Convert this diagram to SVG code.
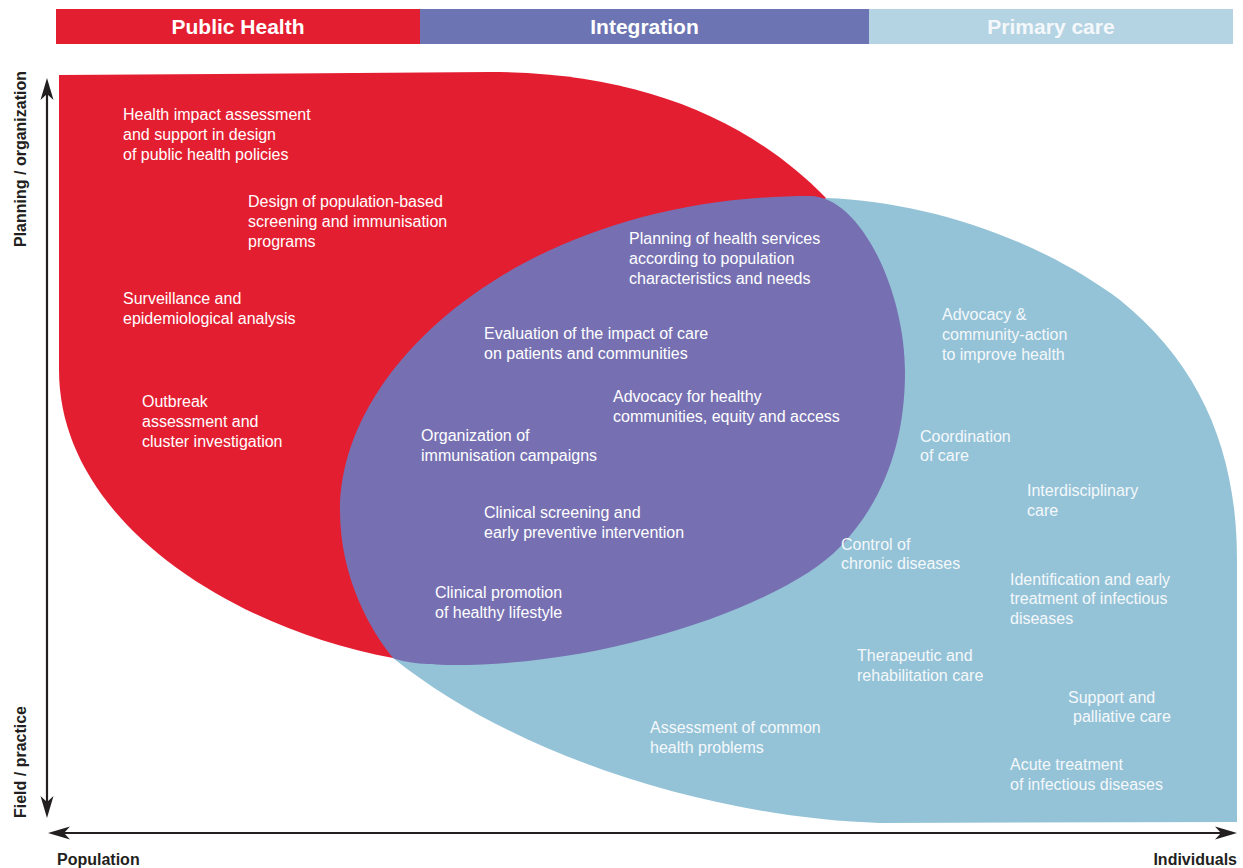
<svg xmlns="http://www.w3.org/2000/svg" width="1243" height="868" viewBox="0 0 1243 868">
<style>
.t{font-family:"Liberation Sans",Arial,sans-serif;font-size:16px;fill:#ffffff}
.tb{fill:#f4f8fb}
.h{font-family:"Liberation Sans",Arial,sans-serif;font-size:21px;font-weight:bold;text-anchor:middle}
.ax{font-family:"Liberation Sans",Arial,sans-serif;font-size:16px;font-weight:bold;fill:#231f20}
.axis{fill:none;stroke:#231f20;stroke-width:2.2}
</style>
<defs>
<marker id="arr" viewBox="-23 -7 24 14" refX="-10" refY="0" markerWidth="24" markerHeight="14" markerUnits="userSpaceOnUse" orient="auto-start-reverse">
<path d="M0,0 L-22,-6.5 L-16,0 L-22,6.5 Z" fill="#231f20"/>
</marker>
</defs>
<rect width="1243" height="868" fill="#ffffff"/>
<g id="header">
<g id="hdr-public-health"><rect x="56" y="9" width="364" height="35" fill="#e41e31"/><text class="h" x="238" y="34" fill="#ffffff">Public Health</text></g>
<g id="hdr-integration"><rect x="420" y="9" width="449" height="35" fill="#6d74b3"/><text class="h" x="644.5" y="34" fill="#ffffff">Integration</text></g>
<g id="hdr-primary-care"><rect x="869" y="9" width="364" height="35" fill="#b4d3e3"/><text class="h" x="1051" y="34" fill="#f4f8fb">Primary care</text></g>
</g>
<g id="shapes">
<path id="public-health-area" fill="#e41e31" d="M59,75 L490,72 C640,72 750,120 826,198 L620,430 L393,658 C230,628 59,520 59,370 Z"/>
<path id="primary-care-area" fill="#94c3d7" d="M826,198 C930,202 1040,240 1120,300 C1200,365 1237,450 1237,560 L1237,822 L880,823 C720,818 520,760 393,658 L620,430 Z"/>
<path id="integration-area" fill="#7670b2" d="M340,510 C340,360 530,196 810,196 C860,196 905,290 905,372 C905,440 885,500 840,547 C790,600 620,665 455,665 C430,665 405,663 393,658 C372,632 340,580 340,510 Z"/>
</g>
<g id="connectors">
<path class="axis" d="M47,808 L47,88" marker-start="url(#arr)" marker-end="url(#arr)"/>
<path class="axis" d="M58,833 L1227,833" marker-start="url(#arr)" marker-end="url(#arr)"/>
</g>
<g id="axis-labels">
<text class="ax" text-anchor="middle" transform="translate(26,159) rotate(-90)">Planning / organization</text>
<text class="ax" text-anchor="middle" transform="translate(26,762) rotate(-90)">Field / practice</text>
<text class="ax" x="57" y="865">Population</text>
<text class="ax" x="1237" y="865" text-anchor="end">Individuals</text>
</g>
<g id="n1" class="t"><text class="t" x="123" y="120">Health impact assessment</text><text class="t" x="123" y="140">and support in design</text><text class="t" x="123" y="160">of public health policies</text></g>
<g id="n2"><text class="t" x="248" y="207">Design of population-based</text><text class="t" x="248" y="227">screening and immunisation</text><text class="t" x="248" y="247">programs</text></g>
<g id="n3"><text class="t" x="123" y="304">Surveillance and</text><text class="t" x="123" y="324">epidemiological analysis</text></g>
<g id="n4"><text class="t" x="142" y="407">Outbreak</text><text class="t" x="142" y="427">assessment and</text><text class="t" x="142" y="447">cluster investigation</text></g>
<g id="n5"><text class="t" x="629" y="244">Planning of health services</text><text class="t" x="629" y="264">according to population</text><text class="t" x="629" y="284">characteristics and needs</text></g>
<g id="n6"><text class="t" x="484" y="339">Evaluation of the impact of care</text><text class="t" x="484" y="359">on patients and communities</text></g>
<g id="n7"><text class="t" x="613" y="402">Advocacy for healthy</text><text class="t" x="613" y="422">communities, equity and access</text></g>
<g id="n8"><text class="t" x="421" y="441">Organization of</text><text class="t" x="421" y="461">immunisation campaigns</text></g>
<g id="n9"><text class="t" x="484" y="518">Clinical screening and</text><text class="t" x="484" y="538">early preventive intervention</text></g>
<g id="n10"><text class="t" x="435" y="598">Clinical promotion</text><text class="t" x="435" y="618">of healthy lifestyle</text></g>
<g id="n11"><text class="t tb" x="942" y="320">Advocacy &amp;</text><text class="t tb" x="942" y="340">community-action</text><text class="t tb" x="942" y="360">to improve health</text></g>
<g id="n12"><text class="t tb" x="920" y="442">Coordination</text><text class="t tb" x="920" y="461">of care</text></g>
<g id="n13"><text class="t tb" x="1027" y="496">Interdisciplinary</text><text class="t tb" x="1027" y="516">care</text></g>
<g id="n14"><text class="t tb" x="841" y="550">Control of</text><text class="t tb" x="841" y="569">chronic diseases</text></g>
<g id="n15"><text class="t tb" x="1010" y="585">Identification and early</text><text class="t tb" x="1010" y="604">treatment of infectious</text><text class="t tb" x="1010" y="624">diseases</text></g>
<g id="n16"><text class="t tb" x="857" y="661">Therapeutic and</text><text class="t tb" x="857" y="681">rehabilitation care</text></g>
<g id="n17"><text class="t tb" x="1068" y="703">Support and</text><text class="t tb" x="1073" y="722">palliative care</text></g>
<g id="n18"><text class="t tb" x="650" y="733">Assessment of common</text><text class="t tb" x="650" y="753">health problems</text></g>
<g id="n19"><text class="t tb" x="1010" y="770">Acute treatment</text><text class="t tb" x="1010" y="790">of infectious diseases</text></g>
</svg>
